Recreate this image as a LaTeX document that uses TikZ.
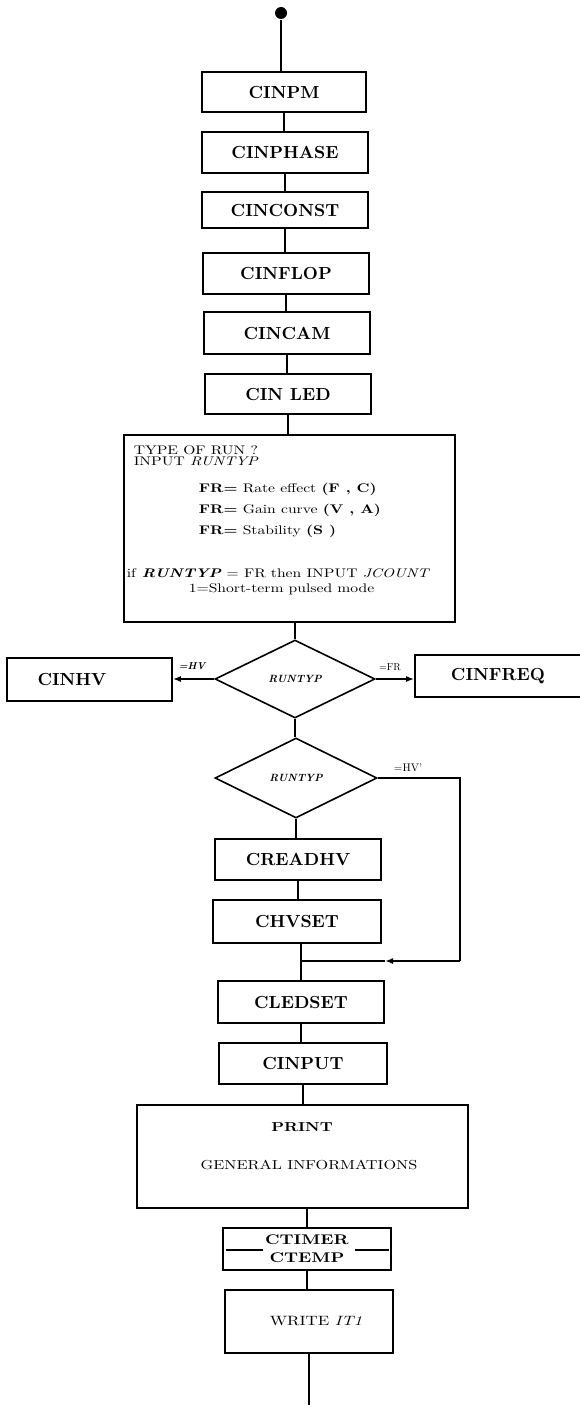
\documentclass[tikz,border=0pt]{standalone}
\usepackage{fontspec}
\setmainfont{lmroman10-regular.otf}[BoldFont=lmroman10-bold.otf,ItalicFont=lmroman10-italic.otf,BoldItalicFont=lmroman10-bolditalic.otf]
\newfontfamily\widefont{lmroman10-regular.otf}[BoldFont=lmroman10-bold.otf,ItalicFont=lmroman10-italic.otf,BoldItalicFont=lmroman10-bolditalic.otf,FakeStretch=1.25]
\usetikzlibrary{shapes.geometric,arrows.meta}
\begin{document}
\begin{tikzpicture}[x=1pt,y=-1pt,line width=1.6pt,
  box/.style={draw,rectangle,inner sep=0pt,font=\bfseries\fontsize{17.5}{18}\selectfont},
  plainbox/.style={draw,rectangle,inner sep=0pt},
  dec/.style={draw,diamond,inner sep=0pt,font=\bfseries\itshape\fontsize{10.5}{12}\selectfont},
  txt/.style={inner sep=0pt,anchor=base west,font=\widefont\fontsize{12.5}{14}\selectfont},
  lab/.style={inner sep=0pt,font=\fontsize{10}{11}\selectfont},
  arr/.style={-{Latex[length=8pt,width=6pt]}}]
\useasboundingbox (0,0) rectangle (579,1410);

% start dot
\node[circle,fill,inner sep=0pt,minimum size=12pt] (start) at (281,13) {};

% top chain
\node[box,minimum width=164pt,minimum height=40pt] (cinpm) at (284,92) {CINPM};
\node[box,minimum width=166pt,minimum height=41pt] (cinphase) at (285,152.5) {CINPHASE};
\node[box,minimum width=166pt,minimum height=36pt] (cinconst) at (285,210) {CINCONST};
\node[box,minimum width=166pt,minimum height=41pt] (cinflop) at (286,273.5) {CINFLOP};
\node[box,minimum width=166pt,minimum height=42pt] (cincam) at (287,333) {CINCAM};
\node[box,minimum width=166pt,minimum height=40pt] (cinled) at (288,394) {CIN LED};

% run type box
\node[plainbox,minimum width=331pt,minimum height=187pt] (run) at (289.5,528.5) {};
\node[txt] (t1) at (133,454) {TYPE OF RUN ?};
\node[txt] (t2) at (133,465) {INPUT \textit{RUNTYP}};
\node[txt] (t3) at (198,492.5) {\textbf{FR=} Rate effect \textbf{(F , C)}};
\node[txt] (t4) at (198,513.5) {\textbf{FR=} Gain curve \textbf{(V , A)}};
\node[txt] (t5) at (198,534.5) {\textbf{FR=} Stability \textbf{(S )}};
\node[txt] (t6) at (126,577) {if \textbf{\textit{RUNTYP}} = FR then INPUT \textit{JCOUNT}};
\node[txt] (t7) at (188,592) {1=Short-term pulsed mode};

% first decision
\node[dec,minimum width=160pt,minimum height=78pt] (d1) at (295,679) {RUNTYP};
\node[box,minimum width=165pt,minimum height=43pt] (cinhv) at (89.5,679.5) {CINHV\hspace*{35pt}};
\node[box,minimum width=166pt,minimum height=42pt] (cinfreq) at (498,676) {CINFREQ};
\node[lab,font=\bfseries\itshape\fontsize{10}{11}\selectfont] (lhv) at (192,666) {=HV};
\node[lab] (lfr) at (390,667) {=FR};

% second decision
\node[dec,minimum width=162pt,minimum height=80pt] (d2) at (296,778) {RUNTYP};
\node[lab,font=\fontsize{11}{12}\selectfont] (lhvp) at (408,768) {=HV'};

\node[box,minimum width=166pt,minimum height=41pt] (creadhv) at (298,859.5) {CREADHV};
\node[box,minimum width=168pt,minimum height=43pt] (chvset) at (297,921.5) {CHVSET};
\node[box,minimum width=166pt,minimum height=42pt] (cledset) at (301,1002) {CLEDSET};
\node[box,minimum width=168pt,minimum height=41pt] (cinput) at (303,1063.5) {CINPUT};

% print box
\node[plainbox,minimum width=331pt,minimum height=103pt] (print) at (302.5,1156.5) {};
\node[inner sep=0pt,font=\widefont\bfseries\fontsize{13}{14}\selectfont] (pa) at (302,1127) {PRINT};
\node[inner sep=0pt,font=\widefont\fontsize{13}{14}\selectfont] (pb) at (309,1165) {GENERAL INFORMATIONS};

% timer box
\node[box,minimum width=168pt,minimum height=42pt,align=center,font=\widefont\bfseries\fontsize{14}{18}\selectfont] (ctimer) at (307,1249) {CTIMER\\CTEMP};
\draw[line width=1.1pt] ([xshift=4pt,yshift=-1pt]ctimer.west) -- ++(37,0);
\draw[line width=1.1pt] ([xshift=-3pt,yshift=-1pt]ctimer.east) -- ++(-34,0);

% write box
\node[box,minimum width=168pt,minimum height=63pt,font=\widefont\fontsize{13.5}{16}\selectfont] (write) at (309,1321.5) {\hspace*{14pt}WRITE \textit{IT1}};
\coordinate (stop) at (309,1405);

% connectors
\draw (start) -- (start |- cinpm.north);
\draw (cinpm.south) -- (cinpm.south |- cinphase.north);
\draw (cinphase.south) -- (cinphase.south |- cinconst.north);
\draw (cinconst.south) -- (cinconst.south |- cinflop.north);
\draw (cinflop.south) -- (cinflop.south |- cincam.north);
\draw (cincam.south) -- (cincam.south |- cinled.north);
\draw (cinled.south) -- (cinled.south |- run.north);
\draw (d1.north |- run.south) -- (d1.north);
\draw[arr] (d1.west) -- (d1.west -| cinhv.east);
\draw[arr] (d1.east) -- (d1.east -| cinfreq.west);
\draw (d1.south) -- (d1.south |- d2.north);
\draw (d2.south) -- (d2.south |- creadhv.north);
\draw (creadhv.south) -- (creadhv.south |- chvset.north);
\draw (cledset.north |- chvset.south) -- (cledset.north);
\coordinate (c1) at (460,778);
\coordinate (c2) at (460,961);
\coordinate (ah) at (385,961);
\coordinate (j) at (cledset.north |- c2);
\draw (d2.east) -- (d2.east -| c1) -- (c2);
\draw[arr] (c2) -- (ah);
\draw (ah) -- (j);
\draw (cledset.south) -- (cledset.south |- cinput.north);
\draw (cinput.south) -- (cinput.south |- print.north);
\draw (ctimer.north |- print.south) -- (ctimer.north);
\draw (ctimer.south) -- (ctimer.south |- write.north);
\draw (write.south) -- (write.south |- stop);
\end{tikzpicture}
\end{document}
